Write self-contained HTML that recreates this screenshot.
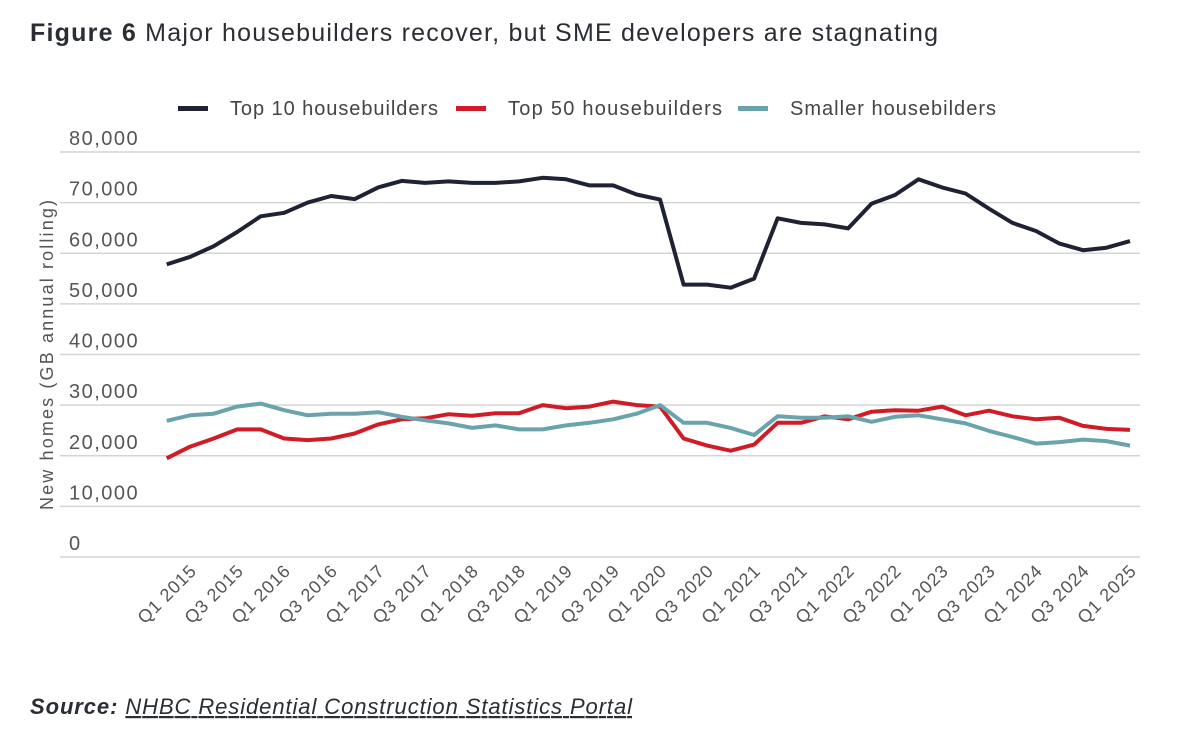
<!DOCTYPE html>
<html><head><meta charset="utf-8">
<style>
html,body{margin:0;padding:0;background:#fff;}
svg{display:block;font-family:"Liberation Sans",sans-serif;}
</style></head>
<body>
<svg id="chart" width="1200" height="749" viewBox="0 0 1200 749">
<text x="30" y="41" font-size="25" fill="#2a2d33" textLength="908" lengthAdjust="spacing"><tspan font-weight="bold">Figure 6</tspan> Major housebuilders recover, but SME developers are stagnating</text>
<g id="legend"></g>
<g id="grid"></g>
<g id="yticks"></g>
<text transform="translate(53,355) rotate(-90)" text-anchor="middle" font-size="18" fill="#555" textLength="310" lengthAdjust="spacing">New homes (GB annual rolling)</text>
<g id="xticks"></g>
<g id="series"></g>
<text x="30" y="714" font-size="22" fill="#2a2d33" font-style="italic" textLength="602" lengthAdjust="spacing"><tspan font-weight="bold">Source:</tspan> <tspan text-decoration="underline">NHBC Residential Construction Statistics Portal</tspan></text>
</svg>
<script>
const quarters = [];
for (let y = 2015; y <= 2025; y++) for (let q = 1; q <= 4; q++) quarters.push('Q' + q + ' ' + y);
const categories = quarters.slice(0, 42);
const top10 = [57.8,59.3,61.4,64.2,67.3,68.0,70.0,71.3,70.7,73.0,74.3,73.9,74.2,73.9,73.9,74.2,74.9,74.6,73.4,73.4,71.6,70.6,53.8,53.8,53.2,55.0,66.9,66.0,65.7,64.9,69.8,71.5,74.6,73.0,71.8,68.8,66.0,64.4,61.9,60.6,61.1,62.4];
const top50 = [19.5,21.8,23.4,25.2,25.2,23.4,23.1,23.4,24.4,26.2,27.2,27.4,28.2,27.9,28.4,28.4,30.0,29.4,29.7,30.7,30.0,29.7,23.4,22.0,21.0,22.2,26.5,26.5,27.8,27.2,28.7,29.0,28.9,29.7,28.0,28.9,27.8,27.2,27.5,25.9,25.3,25.1];
const smaller = [26.9,28.0,28.3,29.7,30.3,29.0,28.0,28.3,28.3,28.6,27.7,27.0,26.4,25.5,26.0,25.2,25.2,26.0,26.5,27.2,28.3,30.0,26.5,26.5,25.5,24.1,27.8,27.5,27.5,27.8,26.7,27.7,28.0,27.2,26.4,24.9,23.7,22.4,22.7,23.2,22.9,22.0];
const yTicks = [0,10000,20000,30000,40000,50000,60000,70000,80000];
const seriesNames = ['Top 10 housebuilders','Top 50 housebuilders','Smaller housebilders'];
const seriesColors = ['#1f2233','#d01c26','#6aa3ab'];

const NS = 'http://www.w3.org/2000/svg';
const X0 = 166.7, X1 = 1130, Y0 = 557, Y1 = 152;
const xS = i => X0 + (X1 - X0) * i / (categories.length - 1);
const yS = v => Y0 - (Y0 - Y1) * v / 80000;
function mk(tag, attrs, parent){const e=document.createElementNS(NS,tag);for(const k in attrs)e.setAttribute(k,attrs[k]);parent.appendChild(e);return e;}

const grid = document.getElementById('grid'), yt = document.getElementById('yticks');
yTicks.forEach(v => {
  const l = mk('line',{x1:60,x2:1140,y1:yS(v),y2:yS(v),stroke:'#d4d4d4','stroke-width':1.5},grid);
  
  
  const t = mk('text',{x:69,y:yS(v)-7,'font-size':20,fill:'#555','letter-spacing':1.5},yt);
  t.textContent = v.toLocaleString('en-US');
  
  
});

const xt = document.getElementById('xticks');
categories.forEach((c,i) => {
  if (i % 2) return;
  const x = xS(i) + 31, y = 572;
  const t = mk('text',{x:0,y:0,'text-anchor':'end','font-size':18,fill:'#555','letter-spacing':0.8,transform:`translate(${x},${y}) rotate(-45)`},xt);
  t.textContent = c;
  
  
});

const sg = document.getElementById('series');
[top10, top50, smaller].forEach((arr, s) => {
  const d = arr.map((v,i) => (i?'L':'M') + xS(i).toFixed(1) + ',' + yS(v*1000).toFixed(1)).join(' ');
  const p = mk('path',{d:d,fill:'none',stroke:seriesColors[s],'stroke-width':4,'stroke-linejoin':'round'},sg);
  
  
});

const lg = document.getElementById('legend');
const lx = [178, 456, 738];
const lw = [208, 214, 206];
seriesNames.forEach((n, s) => {
  const r = mk('rect',{x:lx[s],y:106,width:30,height:5,fill:seriesColors[s]},lg);
  
  
  const t = mk('text',{x:lx[s]+52,y:115,'font-size':20,fill:'#444',textLength:lw[s],lengthAdjust:'spacing'},lg);
  t.textContent = n;
  
  
});
</script>
</body></html>
